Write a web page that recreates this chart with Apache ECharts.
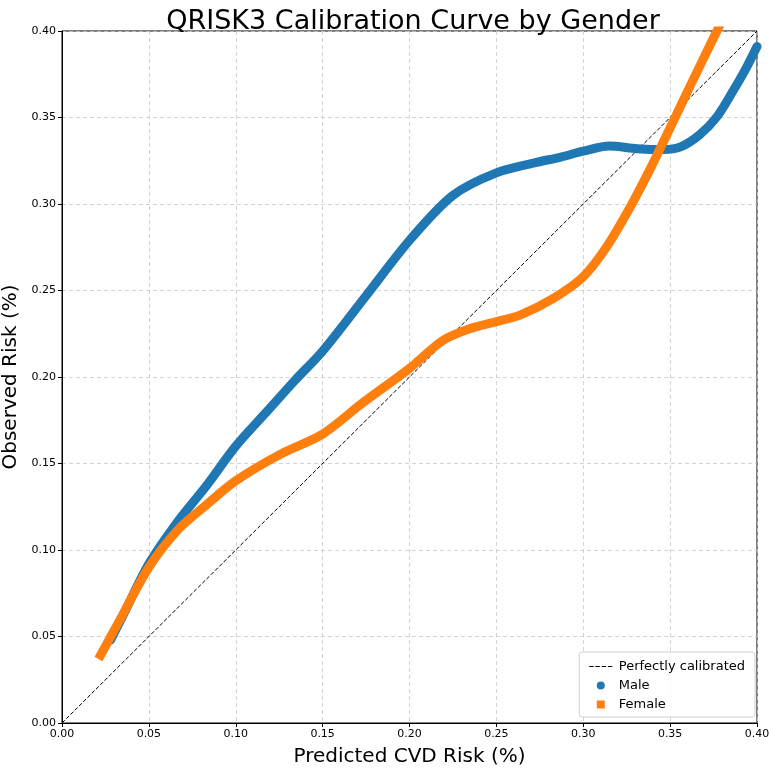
<!DOCTYPE html>
<html>
<head>
    <meta charset="utf-8">
    <title>QRISK3 Calibration Curve by Gender</title>
    <script src="https://cdn.jsdelivr.net/npm/echarts@6/dist/echarts.min.js"></script>
</head>
<body style="margin:0">
<div id="main" style="width:771px;height:770px;"></div>
<script type="text/javascript">
    // 数据：点
    var ticks = [0, 0.05, 0.10, 0.15, 0.20, 0.25, 0.30, 0.35, 0.40];

    var maleX = [0.028, 0.035, 0.05, 0.067, 0.083, 0.10, 0.117, 0.134, 0.15, 0.175, 0.20, 0.225, 0.25, 0.273, 0.2866, 0.30, 0.315, 0.331, 0.346, 0.356, 0.367, 0.377, 0.386, 0.394, 0.40];
    var maleY = [0.048, 0.062, 0.092, 0.117, 0.137, 0.160, 0.179, 0.198, 0.215, 0.247, 0.279, 0.305, 0.318, 0.324, 0.327, 0.3305, 0.3335, 0.332, 0.3315, 0.333, 0.340, 0.3505, 0.365, 0.379, 0.391];

    var femaleX = [0.021, 0.033, 0.05, 0.067, 0.083, 0.10, 0.125, 0.15, 0.173, 0.20, 0.219, 0.235, 0.25, 0.2636, 0.2828, 0.30, 0.3135, 0.3269, 0.3384, 0.3476, 0.3576, 0.3672, 0.3772, 0.39];
    var femaleY = [0.037, 0.059, 0.090, 0.112, 0.126, 0.140, 0.155, 0.167, 0.185, 0.205, 0.221, 0.228, 0.232, 0.2358, 0.2455, 0.258, 0.2753, 0.298, 0.320, 0.339, 0.360, 0.380, 0.4006, 0.427];

    var diagX = [0, 0.40];
    var diagY = [0, 0.40];

    function pairs(xs, ys) {
        var out = [];
        for (var i = 0; i < xs.length; i++) out.push([xs[i], ys[i]]);
        return out;
    }

    var font = 'DejaVu Sans';
    var myChart = echarts.init(document.getElementById('main'));

    function valueAxis(name, gap) {
        return {
            type: 'value',
            min: ticks[0],
            max: ticks[ticks.length - 1],
            interval: 0.05,
            name: name,
            nameLocation: 'middle',
            nameGap: gap,
            nameTextStyle: {fontSize: 20, color: '#000', fontFamily: font},
            axisLine: {show: true, onZero: false, lineStyle: {color: '#000', width: 1}},
            axisTick: {show: true, length: 4, lineStyle: {color: '#000'}},
            axisLabel: {
                fontSize: 11, color: '#000', fontFamily: font, margin: 6,
                formatter: function (v) { return v.toFixed(2); }
            },
            splitLine: {show: true, lineStyle: {color: '#c8c8c8', type: [4, 3], width: 0.8}}
        };
    }

    // 图例图标
    var dashIcon = 'path://M0,4h5v1.2h-5zM7,4h5v1.2h-5zM14,4h5v1.2h-5zM21,4h5v1.2h-5zM0,0h0.01v0.01h-0.01zM0,9h0.01v0.01h-0.01z';
    var squareIcon = 'path://M0,0h10v10h-10z';

    myChart.setOption({
        animation: false,
        backgroundColor: '#fff',
        title: {
            text: 'QRISK3 Calibration Curve by Gender',
            left: 408,
            textAlign: 'center',
            top: 3,
            textStyle: {fontSize: 27, fontWeight: 'normal', color: '#000', fontFamily: font}
        },
        grid: {
            left: 62, right: 14, top: 31, bottom: 47,
            outerBoundsMode: 'none',
            containLabel: false,
            show: true, borderColor: '#000', borderWidth: 1, backgroundColor: 'transparent'
        },
        xAxis: valueAxis('Predicted CVD Risk (%)', 24),
        yAxis: valueAxis('Observed Risk (%)', 36),
        legend: {
            orient: 'vertical',
            right: 16,
            bottom: 53,
            padding: [8, 10, 6, 10],
            itemGap: 6,
            itemWidth: 26,
            itemHeight: 8,
            backgroundColor: 'rgba(255,255,255,0.85)',
            borderColor: '#d0d0d0',
            borderWidth: 1,
            borderRadius: 3,
            textStyle: {fontSize: 13, color: '#000', fontFamily: font},
            data: [
                {name: 'Perfectly calibrated', icon: dashIcon, itemStyle: {color: '#000'}},
                {name: 'Male', icon: 'circle', itemStyle: {color: '#1f77b4'}},
                {name: 'Female', icon: squareIcon, itemStyle: {color: '#ff7f0e'}}
            ]
        },
        series: [
            {
                name: 'Perfectly calibrated',
                type: 'line',
                data: pairs(diagX, diagY),
                symbol: 'none',
                lineStyle: {color: '#000', width: 1, type: [4, 2]},
                itemStyle: {color: '#000'},
                z: 1
            },
            {
                name: 'Male',
                type: 'line',
                data: pairs(maleX, maleY),
                symbol: 'none',
                smooth: 0.3,
                lineStyle: {color: '#1f77b4', width: 9, cap: 'round'},
                itemStyle: {color: '#1f77b4'},
                z: 2
            },
            {
                name: 'Female',
                type: 'line',
                data: pairs(femaleX, femaleY),
                symbol: 'none',
                smooth: 0.3,
                lineStyle: {color: '#ff7f0e', width: 9, cap: 'butt'},
                itemStyle: {color: '#ff7f0e'},
                z: 3
            }
        ]
    });
</script>
</body>
</html>
